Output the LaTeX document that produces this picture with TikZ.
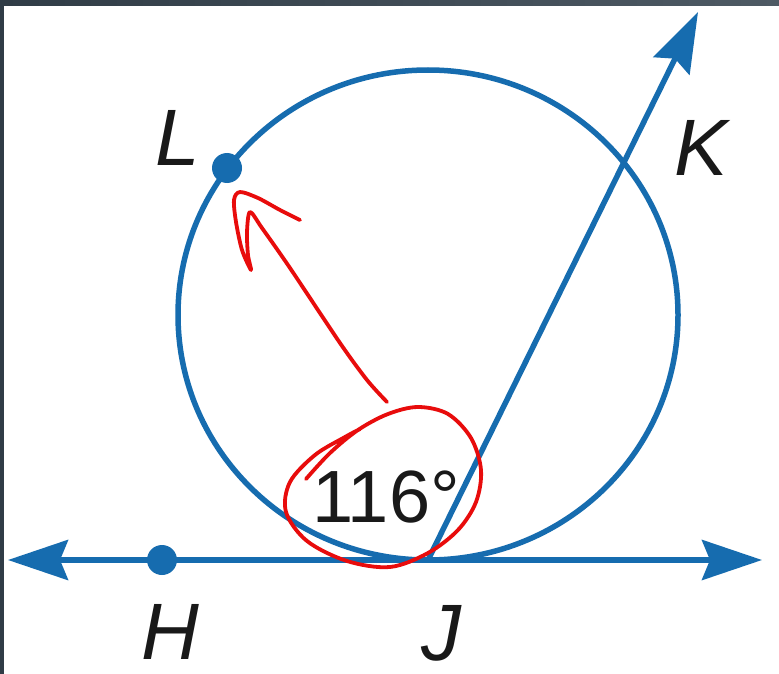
\documentclass[tikz,border=0pt]{standalone}
\usepackage{fontspec}
\setmainfont{Liberation Sans}
\usetikzlibrary{arrows.meta}
\definecolor{geoblue}{RGB}{22,108,175}
\definecolor{inkred}{RGB}{232,12,12}
\definecolor{frameL}{RGB}{48,60,70}
\definecolor{frameR}{RGB}{78,90,100}
\tikzset{
  geo/.style={draw=geoblue, line width=5.5pt},
  geoarrow/.style={geo, -{Stealth[length=60pt,width=40pt,inset=8pt]}},
  dotpt/.style={circle, fill=geoblue, inner sep=0pt, minimum size=30pt},
  lbl/.style={inner sep=0pt, text=black!90, font=\fontsize{80}{90}\selectfont\itshape},
  ink/.style={draw=inkred, line width=3.8pt, line cap=round, line join=round}
}
\begin{document}
\begin{tikzpicture}[x=1pt,y=-1pt]
\useasboundingbox (0,0) rectangle (779,674);
\fill[white] (0,0) rectangle (779,674);
\shade[left color=frameL, right color=frameR] (0,0) rectangle (779,6);
\fill[frameL] (0,0) rectangle (4,674);
% circle
\draw[geo] (428,315) ellipse [x radius=250pt, y radius=245pt];
% points
\coordinate (J) at (428,560);
\coordinate (Lend) at (8,560);
\coordinate (Rend) at (762,560);
\coordinate (Ktip) at (698,12);
\draw[geoarrow] (J) -- (Lend);
\draw[geoarrow] (J) -- (Rend);
\draw[geoarrow] (J) -- (Ktip);
\node[dotpt] (H) at (162,560) {};
\node[dotpt] (L) at (227,168) {};
% labels
\node[lbl] (Llbl) at (178,138) {L};
\node[lbl] (Klbl) at (701,148) {K};
\node[lbl] (Hlbl) at (170,632) {H};
\node[lbl] (Jlbl) at (441,633) {J};
\node[inner sep=0pt, text=black!90, font=\fontsize{74}{80}\selectfont] (ang) at (386,497) {116°};
% red annotations
\draw[ink] plot[smooth, tension=0.55] coordinates {
  (306,479) (330,453) (358,430) (388,414) (418,407) (448,414) (471,438)
  (481,470) (476,502) (458,530) (428,553) (390,567) (347,561) (307,541)
  (286,512) (290,482) (315,455) (345,437) (360,429)};
\draw[ink] plot[smooth, tension=0.5] coordinates {
  (387,402) (367,380) (340,343) (290,268) (262,228) (250,212) (247,232)
  (248,255) (251,270) (242,250) (236,222) (234,200) (240,192) (258,198)
  (280,210) (300,220)};
\end{tikzpicture}
\end{document}
